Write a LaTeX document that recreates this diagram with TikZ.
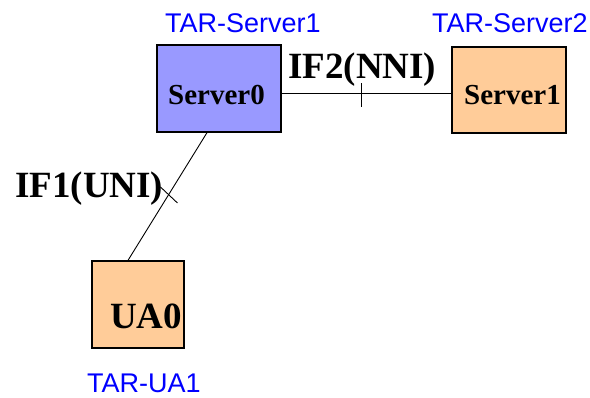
\documentclass[tikz,border=0pt]{standalone}
\usepackage{fontspec}
\setmainfont{Liberation Serif}
\setsansfont{Liberation Sans}
\usepackage{tikz}

\definecolor{srvblue}{RGB}{153,153,255}
\definecolor{peach}{RGB}{255,204,153}
\definecolor{tarblue}{RGB}{0,0,255}

\begin{document}
\begin{tikzpicture}[x=1pt,y=-1pt,
    box/.style={draw, line width=1.3pt, inner sep=0pt},
    nm/.style={anchor=base west, inner sep=0pt, font=\bfseries\fontsize{29}{34}\selectfont},
    ifl/.style={anchor=base west, inner sep=0pt, font=\bfseries\fontsize{37}{40}\selectfont},
    tar/.style={anchor=base west, inner sep=0pt, text=tarblue, font=\sffamily\fontsize{27}{30}\selectfont}]
    \useasboundingbox (0,0) rectangle (590,397);
    % boxes
    \node[box, fill=srvblue, minimum width=124pt, minimum height=87pt] (server0) at (219, 88.5) {};
    \node[box, fill=peach, minimum width=114pt, minimum height=86pt] (server1) at (509, 90) {};
    \node[box, fill=peach, minimum width=92pt, minimum height=87pt] (ua0) at (138, 304.5) {};
    \node[nm] (server0txt) at (168, 104) {Server0};
    \node[nm] (server1txt) at (464, 104) {Server1};
    \node[nm, font=\bfseries\fontsize{37}{40}\selectfont] (ua0txt) at (110, 328) {UA0};
    % links
    \draw[line width=0.9pt] ([yshift=-4.5pt]server0.east) -- coordinate[pos=0.47] (if2) ([yshift=-3pt]server1.west);
    \draw[line width=0.9pt] ([yshift=10pt]if2) -- ([yshift=-14pt]if2);
    \draw[line width=0.9pt] ([xshift=-12pt]server0.south) -- coordinate[pos=0.488] (if1) ([xshift=-10pt]ua0.north);
    \draw[line width=0.9pt] ([shift={(-8pt,8pt)}]if1) -- ([shift={(9pt,-8pt)}]if1);
    % labels
    \node[ifl] (if2txt) at (288, 78) {IF2(NNI)};
    \node[ifl] (if1txt) at (15, 197) {IF1(UNI)};
    \node[tar] (tars1) at (165, 32) {TAR-Server1};
    \node[tar] (tars2) at (432, 32) {TAR-Server2};
    \node[tar] (tarua) at (87, 392) {TAR-UA1};
\end{tikzpicture}
\end{document}
